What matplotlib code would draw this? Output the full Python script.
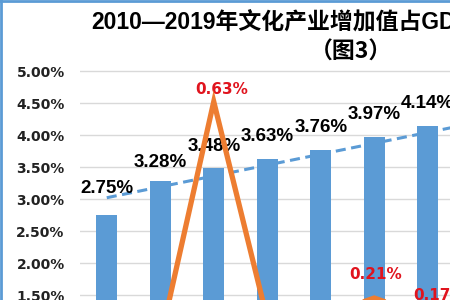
import matplotlib
matplotlib.use("Agg")
import matplotlib.pyplot as plt
from matplotlib.lines import Line2D
import numpy as np

# ---- data ----
years = [2010, 2011, 2012, 2013, 2014, 2015, 2016]
share_values = [2.75, 3.28, 3.48, 3.63, 3.76, 3.97, 4.14]          # % of GDP (bars)
share_labels = ["2.75%", "3.28%", "3.48%", "3.63%", "3.76%", "3.97%", "4.14%"]
incr_years = [2011, 2012, 2013, 2014, 2015, 2016]
incr_values = [0.12, 0.63, 0.165, 0.17, 0.21, 0.17]                # orange line (secondary scale)
incr_labelled = {2012: "0.63%", 2015: "0.21%", 2016: "0.17%"}
trend_years = [2010, 2016]
trend_values = [3.02, 4.04]
all_years = list(range(2010, 2020))
y_ticks = [1.5, 2.0, 2.5, 3.0, 3.5, 4.0, 4.5, 5.0]
tick_labels = ["1.50%", "2.00%", "2.50%", "3.00%", "3.50%", "4.00%", "4.50%", "5.00%"]
title_line1 = "2010—2019年文化产业增加值占GDP"
title_line2 = "（图3）"

# ---- style ----
BLUE = "#5B9BD5"
ORANGE = "#ED7D31"
RED = "#E0141E"
W, H = 450, 300

fig = plt.figure(figsize=(4.5, 3.0), dpi=100)
fig.patch.set_facecolor("white")

# plot area extends beyond the right/bottom edges (the reference is a crop)
left_px, right_px, top_px, bottom_px = 80, 615, 60, 300
ax = fig.add_axes([left_px / W, 1 - bottom_px / H, (right_px - left_px) / W, (bottom_px - top_px) / H])
ax.set_xlim(-0.5, len(all_years) - 0.5)
ax.set_ylim(1.422, 5.172)

idx = {y: i for i, y in enumerate(all_years)}
xb = [idx[y] for y in years]

for s in ax.spines.values():
    s.set_visible(False)
ax.set_yticks(y_ticks)
ax.set_yticklabels(tick_labels, fontsize=10, fontweight="bold", color="#222222",
                   family=["DejaVu Sans"])
ax.tick_params(axis="y", length=0, pad=11)
ax.set_xticks([])
ax.yaxis.grid(True, color="#D9D9D9", linewidth=1.0)
ax.set_axisbelow(True)

ax.bar(xb, share_values, width=0.39, color=BLUE, zorder=2, bottom=0)

# linear trend through read trend values
coef = np.polyfit([idx[y] for y in trend_years], trend_values, 1)
tx = np.array([0, len(all_years) - 1], dtype=float)
ax.plot(tx, np.polyval(coef, tx), color=BLUE, linewidth=2.2,
        dashes=(3.3, 1.8), zorder=3)

bar_label_dy = [27, 19, 22, 22, 23, 22, 23]  # px above bar top
for x, v, lab, dy in zip(xb, share_values, share_labels, bar_label_dy):
    ax.annotate(lab, (x, v), xytext=(0, dy * 72 / 100), textcoords="offset points",
                ha="center", va="center", fontsize=13.5, fontweight="bold",
                color="black", family=["Liberation Sans"], zorder=5,
                annotation_clip=False)

# secondary axis for the orange line
ax2 = ax.twinx()
ax2.set_position(ax.get_position())
ax2.set_ylim(0.2058, 0.719)
for s in ax2.spines.values():
    s.set_visible(False)
ax2.set_yticks([])
xo = [idx[y] for y in incr_years]
ax2.plot(xo, incr_values, color=ORANGE, linewidth=3.8, solid_joinstyle="miter", zorder=4)

incr_label_off = {2012: (8, 12), 2015: (1, 24), 2016: (12, 21)}  # px offsets
for y, v in zip(incr_years, incr_values):
    if y in incr_labelled:
        dx, dy = incr_label_off[y]
        ax2.annotate(incr_labelled[y], (idx[y], v), xytext=(dx * 0.72, dy * 0.72),
                     textcoords="offset points", ha="center", va="center",
                     fontsize=11, fontweight="bold", color=RED,
                     family=["DejaVu Sans"], annotation_clip=False)

# title (two lines, the first one cropped at the right edge)
title_family = ["Liberation Sans", "Noto Sans CJK SC", "DejaVu Sans"]
fig.text(91 / W, 1 - 23 / H, title_line1, ha="left", va="center", fontsize=16.5,
         fontweight="bold", family=title_family, color="black")
fig.text(351 / W, 1 - 52 / H, title_line2, ha="center", va="center", fontsize=16.5,
         fontweight="bold", family=["Noto Sans CJK SC", "DejaVu Sans"], color="black")

# chart border (left and top visible in the crop)
fig.add_artist(Line2D([1 / W, 1 / W], [0, 1], color=BLUE, linewidth=2.0,
                      transform=fig.transFigure))
fig.add_artist(Line2D([0, 1], [1 - 1 / H, 1 - 1 / H], color=BLUE, linewidth=2.0,
                      transform=fig.transFigure))

fig.savefig("out.png", dpi=100, facecolor="white")
